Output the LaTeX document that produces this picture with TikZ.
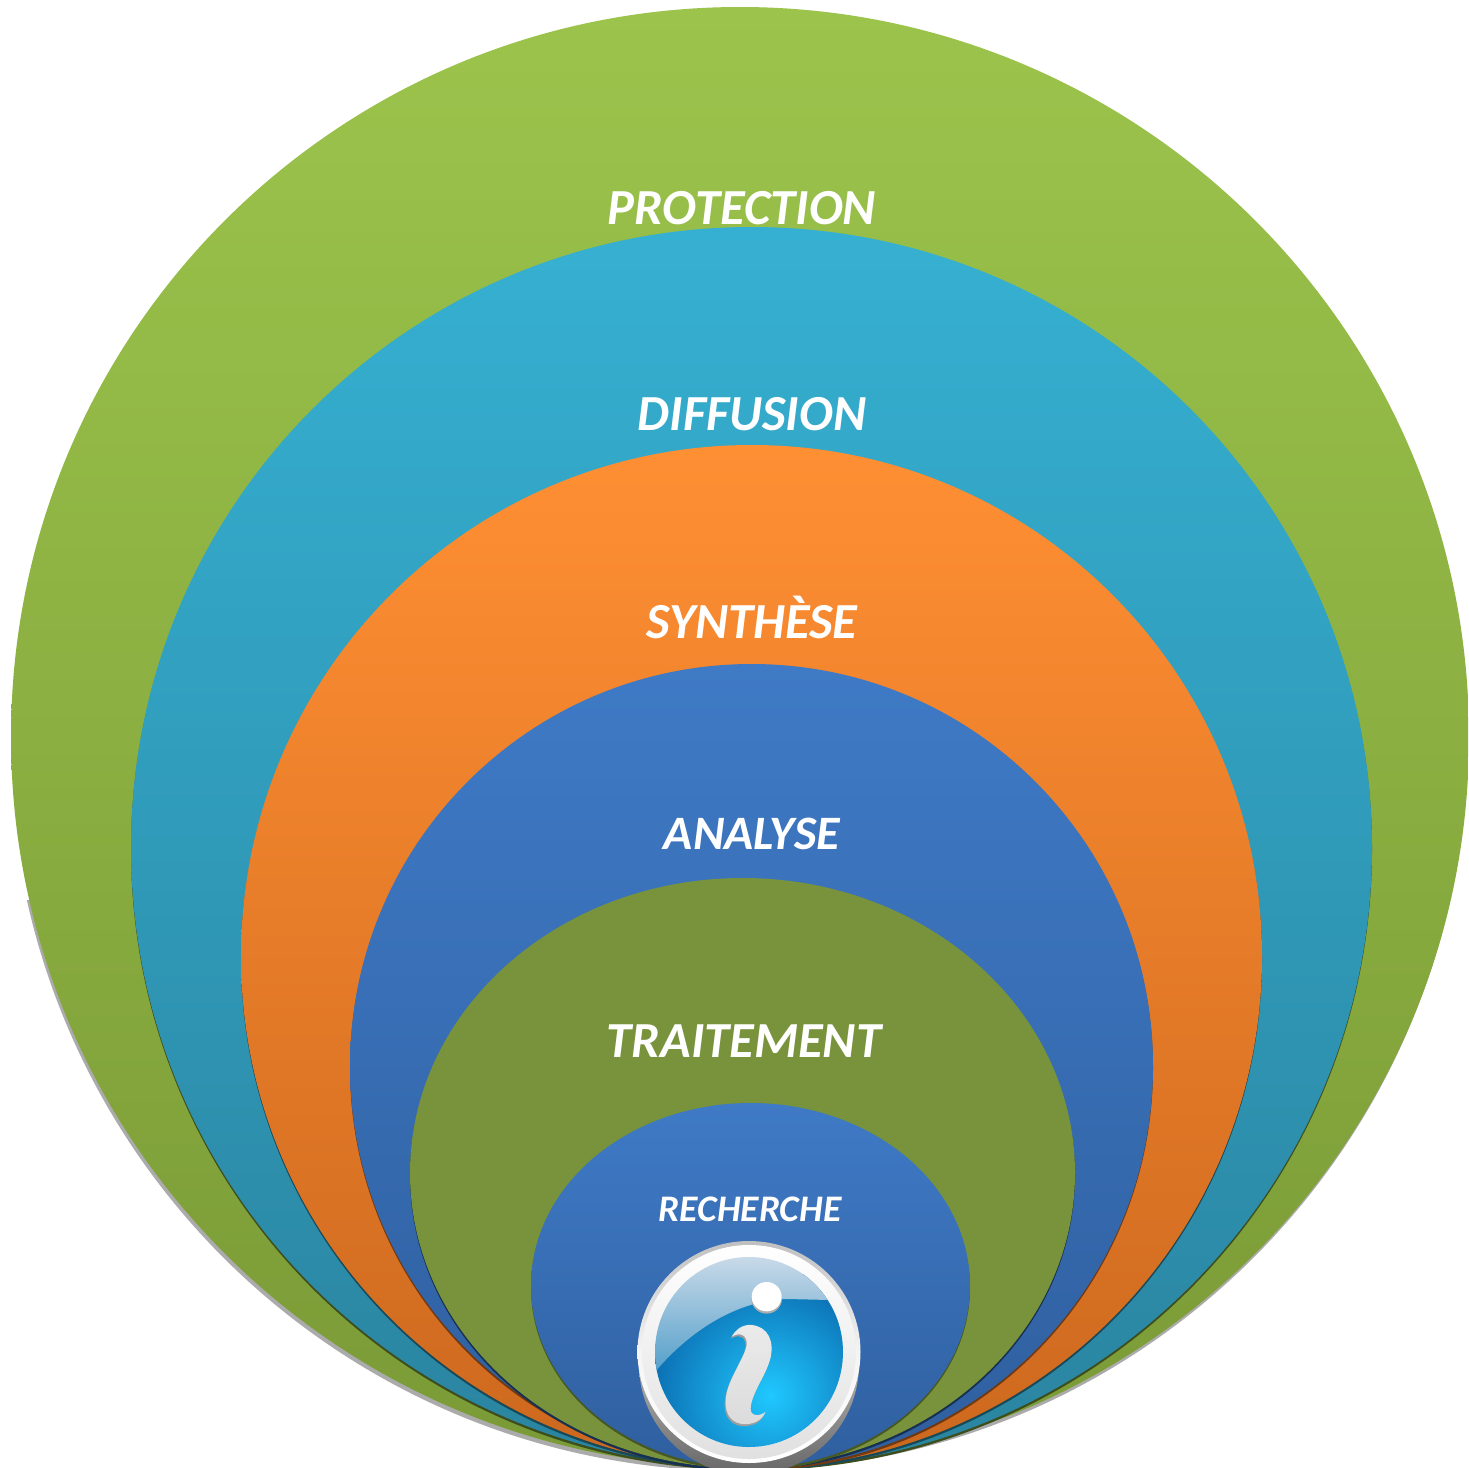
\documentclass[tikz,border=0pt]{standalone}
\usepackage{fontspec}
\setmainfont{Carlito}
\usetikzlibrary{shadings}
\definecolor{grnT}{HTML}{9CC44C}\definecolor{grnB}{HTML}{7A9A36}
\definecolor{cyaT}{HTML}{36B0D2}\definecolor{cyaB}{HTML}{2A84A0}
\definecolor{ornT}{HTML}{FF8F33}\definecolor{ornB}{HTML}{CC681E}
\definecolor{bluT}{HTML}{3F7AC6}\definecolor{bluB}{HTML}{2F5F9F}
\definecolor{oliv}{HTML}{78933B}
\definecolor{glassT}{HTML}{CFDDEA}\definecolor{glassB}{HTML}{4E9CC8}
\definecolor{discO}{HTML}{0A6AAE}\definecolor{discI}{HTML}{20C8FF}
\tikzset{
  lbl/.style={text=white,inner sep=0pt,anchor=center},
  big/.style={lbl,font=\bfseries\itshape\fontsize{50.5}{50.5}\selectfont},
}
\newcommand{\ibody}{(395,350) .. controls (410,325) and (430,313) .. (455,315) .. controls (505,320) and (525,365) .. (510,420) .. controls (495,470) and (455,520) .. (452,565) .. controls (450,590) and (480,590) .. (497,575) .. controls (485,605) and (455,615) .. (425,612) .. controls (385,605) and (370,570) .. (380,520) .. controls (390,470) and (435,410) .. (440,375) .. controls (443,345) and (420,335) .. (395,350) -- cycle}
\begin{document}
\begin{tikzpicture}[x=1pt,y=-1pt]
\useasboundingbox (0,0) rectangle (1468,1468);
\fill[white] (0,0) rectangle (1468,1468);
\begin{scope}
\clip (0,0) rectangle (1468,1468);
% shadow, lower part only
\begin{scope}
\clip (0,900) rectangle (1468,1468);
\fill[black!33] (738.5,741) ellipse [x radius=729,y radius=730];
\end{scope}
% rings: a dark copy slightly lower gives the dark lower edge
\path[top color=grnT,bottom color=grnB] (740,737) ellipse [x radius=729,y radius=730];
\fill[black!50!grnB] (751.5,850) ellipse [x radius=620.5,y radius=620.5];
\path[top color=cyaT,bottom color=cyaB] (751.5,847.5) ellipse [x radius=620.5,y radius=620.5];
\fill[black!45!cyaB] (751.5,959) ellipse [x radius=510.5,y radius=511.5];
\path[top color=ornT,bottom color=ornB] (751.5,956.5) ellipse [x radius=510.5,y radius=511.5];
\fill[black!45!ornB] (751.5,1068.5) ellipse [x radius=401.5,y radius=402];
\path[top color=bluT,bottom color=bluB] (751.5,1066) ellipse [x radius=401.5,y radius=402];
\fill[black!50!bluB] (742.5,1175.5) ellipse [x radius=332.5,y radius=295];
\fill[oliv] (742.5,1173) ellipse [x radius=332.5,y radius=295];
\fill[black!40!oliv] (750.5,1288) ellipse [x radius=219.5,y radius=182.5];
\path[top color=bluT,bottom color=bluB] (750.5,1285.5) ellipse [x radius=219.5,y radius=182.5];
% info icon: base, face ring, disc, glass, letter
\path[top color=white,bottom color=black!60] (749,1364) ellipse [x radius=110,y radius=111];
\path[top color=black!25,bottom color=white,middle color=black!4] (749,1352) ellipse [x radius=111.5,y radius=111];
\path[top color=white,bottom color=black!12] (749,1352) ellipse [x radius=107,y radius=107];
\begin{scope}
\clip (749,1352) ellipse [x radius=94,y radius=95];
\shade[inner color=discI,outer color=discO,shading=radial] (770,1395) circle (125);
\path[top color=glassT,bottom color=glassB] (650,1378) .. controls (690,1328) and (740,1300) .. (787,1299) -- (830,1300) -- (850,1300) -- (850,1250) -- (650,1250) -- cycle;
\end{scope}
\begin{scope}[shift={(600,1220)},x=0.3333pt,y=-0.3333pt]
\fill[black!38,shift={(-3,6)}] \ibody;
\path[top color=black!8,bottom color=black!14] \ibody;
\fill[black!32] (500,236) ellipse [x radius=46,y radius=45];
\fill[white] (500,230) ellipse [x radius=45,y radius=44];
\end{scope}
\end{scope}
% labels
\node[big] (protection) at (742,208) {PROTECTION};
\node[big] (diffusion) at (752,414) {DIFFUSION};
\node[big] (synthese) at (752,617) {SYNTHÈSE};
\node[lbl,font=\bfseries\itshape\fontsize{48}{48}\selectfont] (analyse) at (752,834) {ANALYSE};
\node[big] (traitement) at (744,1041) {TRAITEMENT};
\node[lbl,font=\bfseries\itshape\fontsize{37.5}{37.5}\selectfont] (recherche) at (750,1209) {RECHERCHE};
\end{tikzpicture}
\end{document}
